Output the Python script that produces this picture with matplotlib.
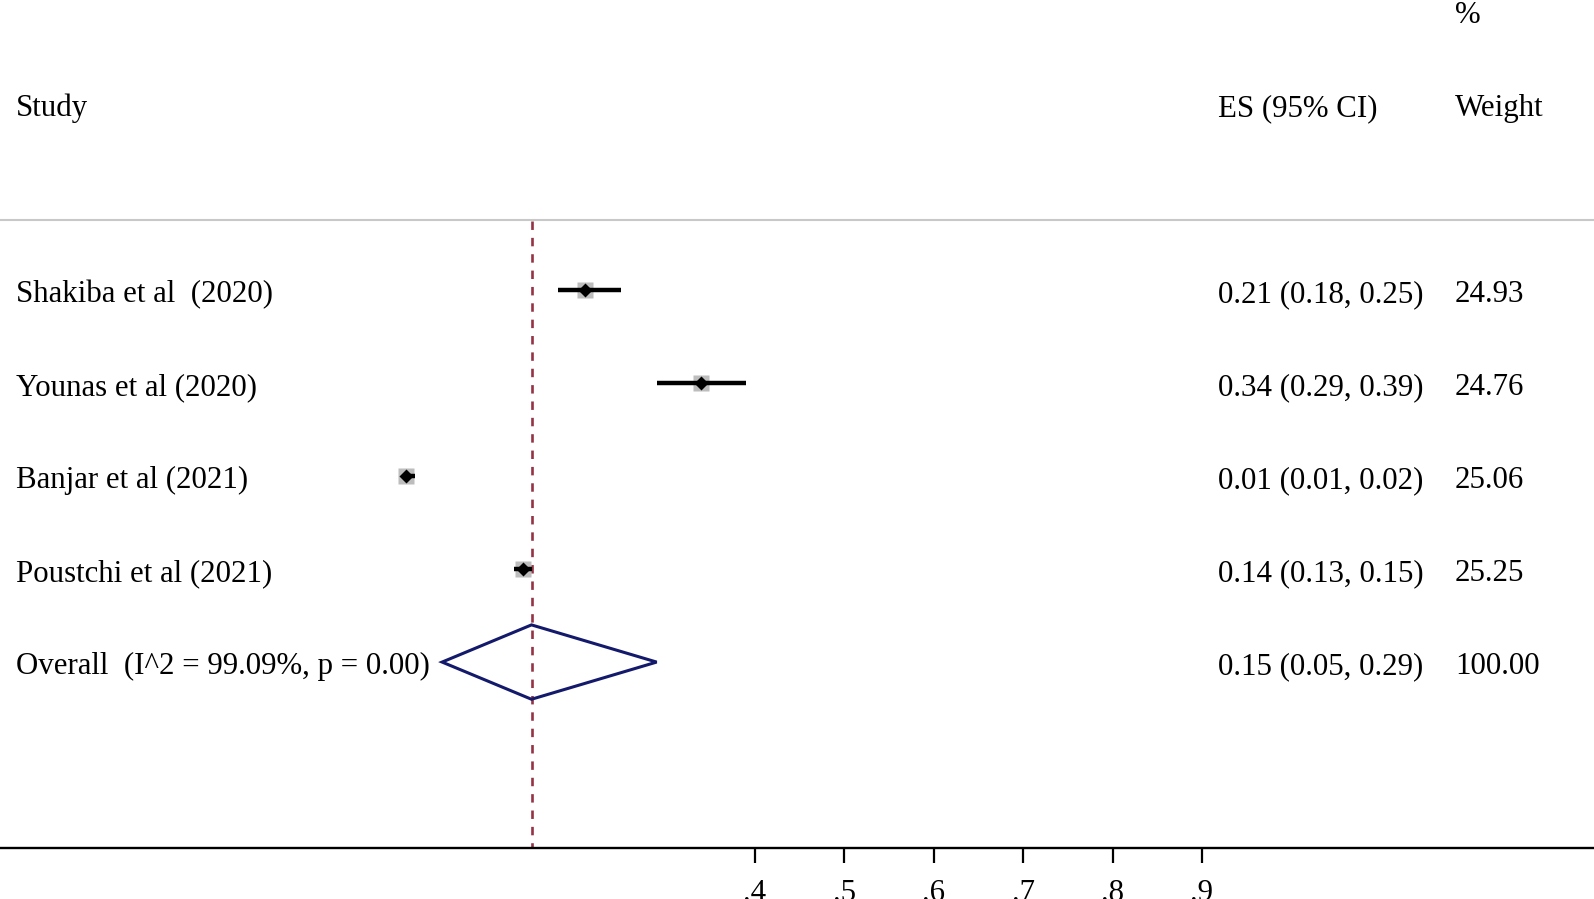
import matplotlib.pyplot as plt
import numpy as np
from matplotlib.patches import Polygon

# data
studies = ["Shakiba et al  (2020)", "Younas et al (2020)", "Banjar et al (2021)", "Poustchi et al (2021)"]
es = [0.21, 0.34, 0.01, 0.14]
ci_lo = [0.18, 0.29, 0.01, 0.13]
ci_hi = [0.25, 0.39, 0.02, 0.15]
weights = [24.93, 24.76, 25.06, 25.25]
overall_label = "Overall  (I^2 = 99.09%, p = 0.00)"
overall_es = 0.15
overall_lo = 0.05
overall_hi = 0.29
xticks = [0.4, 0.5, 0.6, 0.7, 0.8, 0.9]

plt.rcParams['font.family'] = ['Liberation Serif', 'DejaVu Serif']
fs = 22.2

fig = plt.figure(figsize=(15.94, 8.99), dpi=100)
ax = fig.add_axes([0, 51 / 899, 1, 848 / 899])
ax.set_xlim(-397.4 / 894, (1594 - 397.4) / 894)
ax.set_ylim(6.0, -3.122)
ax.set_facecolor('none')

for s in ['left', 'top', 'right']:
    ax.spines[s].set_visible(False)
ax.spines['bottom'].set_linewidth(1.7)
ax.set_yticks([])
ax.set_xticks(xticks)
ax.set_xticklabels(["." + str(int(round(t * 10))) for t in xticks], fontsize=fs)
ax.tick_params(axis='x', length=11, width=1.6, pad=11)

# header
tx = ax.get_yaxis_transform()
col_x = [16 / 1594, 1218 / 1594, 1455 / 1594]
off = 0.126
ax.text(col_x[0], -1.87, "Study", transform=tx, fontsize=fs, va='baseline', ha='left')
ax.text(col_x[1], -1.87, "ES (95% CI)", transform=tx, fontsize=fs, va='baseline', ha='left')
ax.text(col_x[2], -1.87, "Weight", transform=tx, fontsize=fs, va='baseline', ha='left')
ax.text(col_x[2], -2.87, "%", transform=tx, fontsize=fs, va='baseline', ha='left')
ax.axhline(-0.76, color='#c8c8c8', lw=1.5)

# vertical line at the overall estimate
ax.plot([overall_es, overall_es], [-0.74, 6.0], color='#953344', lw=1.9,
        linestyle=(0, (3.2, 3.0)), zorder=1)

rows = np.arange(len(studies))
for i in rows:
    ax.plot([ci_lo[i], ci_hi[i]], [i, i], color='black', lw=3.2, solid_capstyle='butt', zorder=3)
    ax.plot(es[i], i, marker='s', ms=11, color='#bdbdbd', mec='none', zorder=2)
    ax.plot(es[i], i, marker='D', ms=7.5, color='black', mec='none', zorder=4)
    ax.text(col_x[0], i + off, studies[i], transform=tx, fontsize=fs, va='baseline', ha='left')
    ax.text(col_x[1], i + off, "%.2f (%.2f, %.2f)" % (es[i], ci_lo[i], ci_hi[i]),
            transform=tx, fontsize=fs, va='baseline', ha='left')
    ax.text(col_x[2], i + off, "%.2f" % weights[i], transform=tx, fontsize=fs, va='baseline', ha='left')

# overall diamond
yo = len(studies)
diamond = Polygon([[overall_lo, yo], [overall_es, yo - 0.4], [overall_hi, yo], [overall_es, yo + 0.4]],
                  closed=True, fill=False, edgecolor='#141a6b', lw=2.2, zorder=3)
ax.add_patch(diamond)
ax.text(col_x[0], yo + off, overall_label, transform=tx, fontsize=fs, va='baseline', ha='left')
ax.text(col_x[1], yo + off, "%.2f (%.2f, %.2f)" % (overall_es, overall_lo, overall_hi),
        transform=tx, fontsize=fs, va='baseline', ha='left')
ax.text(col_x[2], yo + off, "%.2f" % 100.00, transform=tx, fontsize=fs, va='baseline', ha='left')

fig.savefig("out.png", dpi=100)
